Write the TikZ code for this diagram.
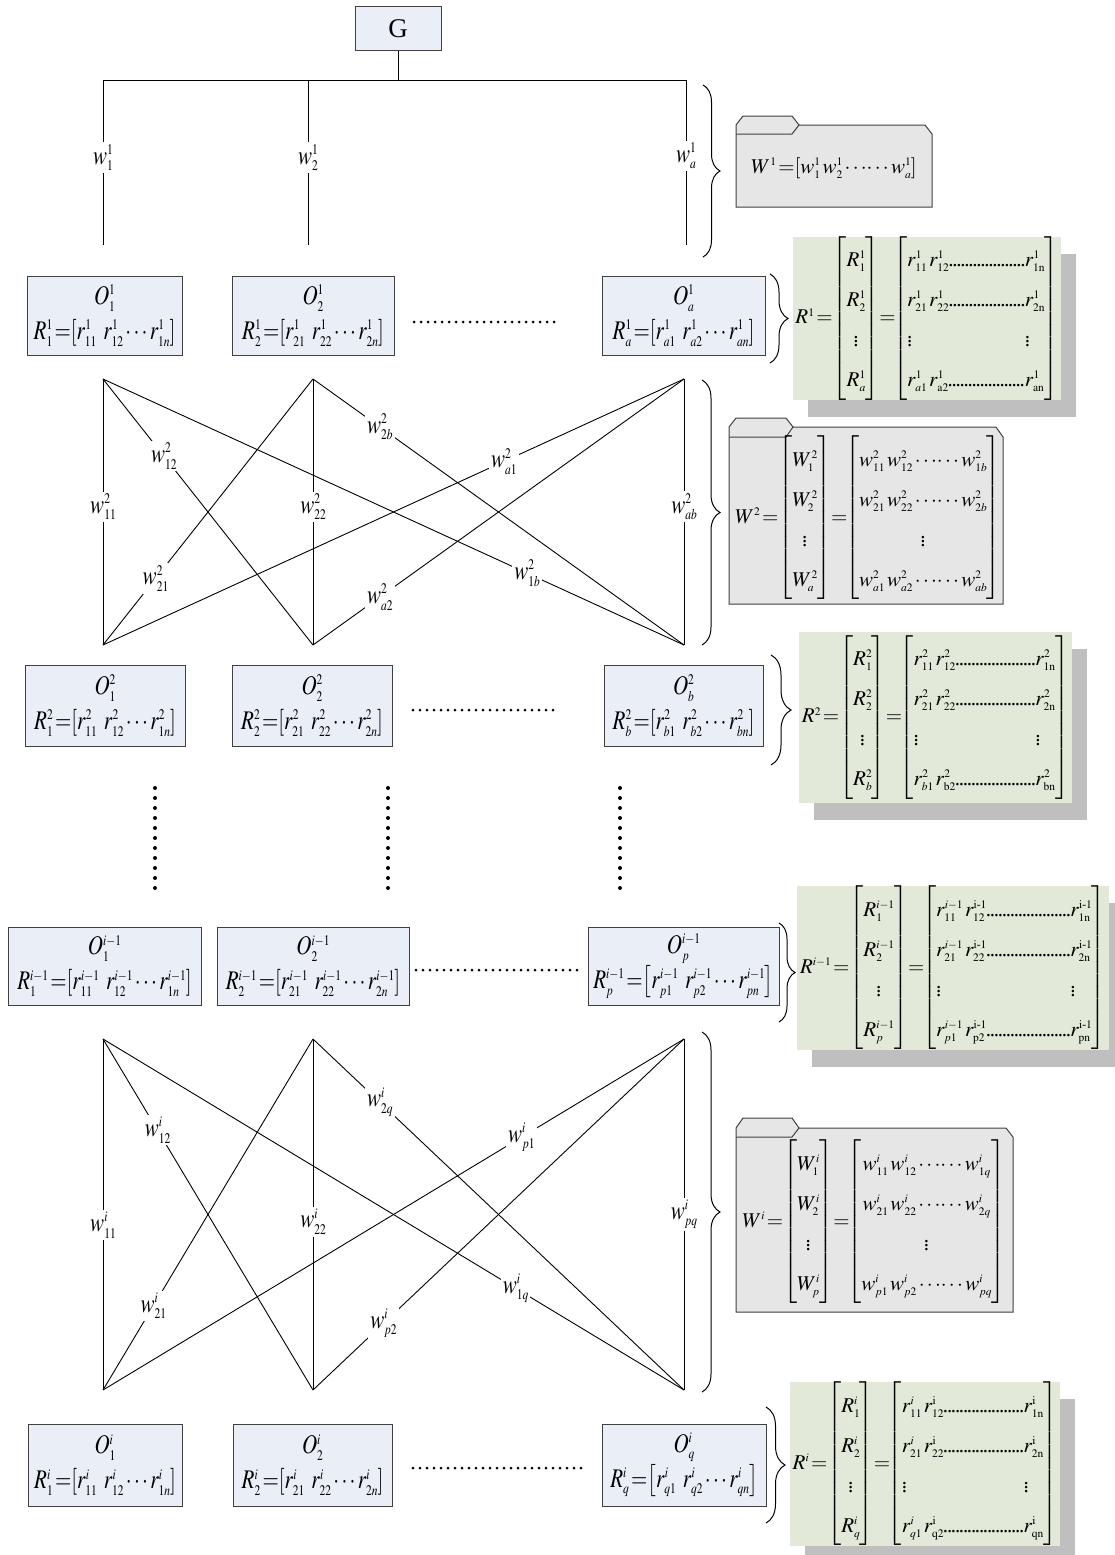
\documentclass[tikz,border=0pt]{standalone}
\usepackage{amsmath}
\usepackage{mathptmx}
\usepackage{graphicx}
\usepackage[no-math]{fontspec}
\setmainfont{Liberation Serif}
\usetikzlibrary{decorations.pathreplacing,calc,shadows}
\DeclareMathSizes{21}{21}{11.5}{9}

\definecolor{boxblue}{HTML}{EAEFF7}
\definecolor{edgec}{HTML}{404040}
\definecolor{matgreen}{HTML}{E2E9D8}
\definecolor{shadowgray}{HTML}{BFBFBF}
\definecolor{foldergray}{HTML}{E6E6E6}

\newcommand{\vs}[1]{\scalebox{1}[1.28]{#1}}
\newcommand{\ldr}[1]{\mbox{\hbox to #1{\leaders\hbox to 4pt{\hss.\hss}\hfill}}}
% name, x1, y1, x2, y2, top line, bottom line
\newcommand{\mkobox}[7]{\node[obox, minimum width={(#4-#2)*1pt}, minimum height={(#5-#3)*1pt}] (#1) at ({(#2+#4)/2},{(#3+#5)/2}) {\vs{$#6$}\\\vs{$#7$}};}
\newcommand{\mkgbox}[6]{\node[gbox, minimum width={(#4-#2)*1pt}, minimum height={(#5-#3)*1pt}] (#1) at ({(#2+#4)/2},{(#3+#5)/2}) {#6};}
% name, L, R, T(tab top), B(body top), C(tab line), Y(bottom), tab right
\newcommand{\mkfolder}[8]{%
 \filldraw[folder] (#2,#5) -- ({#2+7},#4) -- ({#8-7},#4) -- (#8,#5) -- ({#3-7},#5) -- (#3,#6) -- (#3,#7) -- (#2,#7) -- cycle;
 \draw[folder] (#2,#6) -- ({#8-7},#6) -- (#8,#5);
}
\newcommand{\imo}{\mathrm{i\text{-}1}}
\newcommand{\eqb}{\,{=}\!}
\newcommand{\eqm}{\!{=}\!\!}
\newcommand{\lw}[1]{\vs{$#1$}}

\tikzset{
 obox/.style={draw=edgec, fill=boxblue, line width=1pt, inner sep=0pt, align=center, font=\fontsize{21}{35}\selectfont},
 gbox/.style={fill=matgreen, inner sep=0pt, font=\fontsize{21}{25}\selectfont, drop shadow={shadow xshift=15pt, shadow yshift=-17pt, fill=shadowgray, opacity=1}},
 folder/.style={draw=edgec, fill=foldergray, line width=1pt, line join=miter},
 ln/.style={draw=black, line width=0.9pt},
 lbl/.style={fill=white, inner sep=2pt, font=\fontsize{21}{24}\selectfont},
 brc/.style={decorate, decoration={brace, amplitude=#1}, line width=1pt},
 hdots/.style={line width=3pt, line cap=round, dash pattern=on 0pt off 7pt},
 mtext/.style={inner sep=0pt, font=\fontsize{21}{25}\selectfont},
}

\begin{document}
\scriptspace=0pt
\begin{tikzpicture}[x=1pt,y=-1pt]
\useasboundingbox (0,0) rectangle (1115,1555);
\renewcommand{\arraystretch}{1.6}

% ---------- top ----------
\node[obox, minimum width=86pt, minimum height=44pt, font=\fontsize{27}{30}\selectfont] (g) at (398,29) {G};
\coordinate (bl) at (103,80);
\coordinate (bm) at (308,80);
\coordinate (br) at (686,80);
\coordinate (e1) at (103,245);
\coordinate (e2) at (308,245);
\coordinate (e3) at (686,245);
\draw[ln] (bl) -- (br);
\draw[ln] (g.south) -- (g.south |- bl);
\draw[ln] (bl) -- node[lbl,pos=0.47]{\lw{w^1_1}} (e1);
\draw[ln] (bm) -- node[lbl,pos=0.47]{\lw{w^1_2}} (e2);
\draw[ln] (br) -- node[lbl,pos=0.46]{\lw{w^1_a}} (e3);

\draw[brc=17pt] (703,85) -- (703,257);
\mkfolder{f1}{736}{932}{116}{125}{134}{207}{799}
\node[mtext] (w1eq) at (834,168) {$W^1\eqb\left[w^1_1\,w^1_2\cdots\!\cdots w^1_a\right]$};

% ---------- row 1 ----------
\mkobox{o11}{27}{276}{182}{355}{O^1_1}{R^1_1\eqb\left[r^1_{11}\;\,r^1_{12}\cdots r^1_{1n}\right]}
\mkobox{o12}{232}{276}{394}{355}{O^1_2}{R^1_2\eqb\left[r^1_{21}\;\,r^1_{22}\cdots r^1_{2n}\right]}
\mkobox{o13}{602}{276}{765}{355}{O^1_a}{R^1_a\eqb\left[r^1_{a1}\;\,r^1_{a2}\cdots r^1_{an}\right]}
\draw[hdots] (414,322) -- (560,322);
\draw[brc=18pt] (770,274) -- (770,363);
\mkgbox{m1}{793}{239}{1061}{398}{$R^1\eqb\left[\begin{array}{@{}c@{}}R^1_1\\R^1_2\\ \vdots\\ R^1_a\end{array}\right]\eqm\left[\begin{array}{@{}l@{\,}l@{}l@{}}r^1_{11}&r^1_{12}\ldr{76pt}&r^1_{\mathrm{1n}}\\ r^1_{21}&r^1_{22}\ldr{76pt}&r^1_{\mathrm{2n}}\\ \vdots&&\vdots\\ r^1_{a1}&r^1_{\mathrm{a2}}\ldr{76pt}&r^1_{\mathrm{an}}\end{array}\right]$}

% ---------- level 2 ----------
\coordinate (a1) at (103,379);
\coordinate (a2) at (313,379);
\coordinate (a3) at (684,379);
\coordinate (b1) at (103,645);
\coordinate (b2) at (313,645);
\coordinate (b3) at (684,645);
\draw[ln] (a1) -- node[lbl,pos=0.48]{\lw{w^2_{11}}} (b1);
\draw[ln] (a1) -- node[lbl,pos=0.29]{\lw{w^2_{12}}} (b2);
\draw[ln] (a1) -- node[lbl,pos=0.73]{\lw{w^2_{1b}}} (b3);
\draw[ln] (a2) -- node[lbl,pos=0.75]{\lw{w^2_{21}}} (b1);
\draw[ln] (a2) -- node[lbl,pos=0.48]{\lw{w^2_{22}}} (b2);
\draw[ln] (a2) -- node[lbl,pos=0.18]{\lw{w^2_{2b}}} (b3);
\draw[ln] (a3) -- node[lbl,pos=0.31]{\lw{w^2_{a1}}} (b1);
\draw[ln] (a3) -- node[lbl,pos=0.82]{\lw{w^2_{a2}}} (b2);
\draw[ln] (a3) -- node[lbl,pos=0.48]{\lw{w^2_{ab}}} (b3);
\draw[brc=18pt] (702,380) -- (702,645);
\mkfolder{f2}{729}{1003}{418}{427}{437}{604}{793}
\node[mtext] (w2eq) at (868,518) {$W^2\eqb\left[\begin{array}{@{}c@{}}W^2_1\\W^2_2\\ \vdots\\ W^2_a\end{array}\right]\eqm\left[\begin{array}{@{}c@{}}w^2_{11}\,w^2_{12}\cdots\!\cdots w^2_{1b}\\ w^2_{21}\,w^2_{22}\cdots\!\cdots w^2_{2b}\\ \vdots\\ w^2_{a1}\,w^2_{a2}\cdots\!\cdots w^2_{ab}\end{array}\right]$};

% ---------- row 2 ----------
\mkobox{o21}{25}{665}{185}{746}{O^2_1}{R^2_1\eqb\left[r^2_{11}\;\,r^2_{12}\cdots r^2_{1n}\right]}
\mkobox{o22}{232}{665}{392}{746}{O^2_2}{R^2_2\eqb\left[r^2_{21}\;\,r^2_{22}\cdots r^2_{2n}\right]}
\mkobox{o23}{604}{665}{763}{746}{O^2_b}{R^2_b\eqb\left[r^2_{b1}\;\,r^2_{b2}\cdots r^2_{bn}\right]}
\draw[hdots] (413,710) -- (557,710);
\draw[brc=20pt] (771,655) -- (771,765);
\mkgbox{m2}{799}{632}{1072}{803}{$R^2\eqb\left[\begin{array}{@{}c@{}}R^2_1\\R^2_2\\ \vdots\\ R^2_b\end{array}\right]\eqm\left[\begin{array}{@{}l@{\,}l@{}l@{}}r^2_{11}&r^2_{12}\ldr{80pt}&r^2_{\mathrm{1n}}\\ r^2_{21}&r^2_{22}\ldr{80pt}&r^2_{\mathrm{2n}}\\ \vdots&&\vdots\\ r^2_{b1}&r^2_{\mathrm{b2}}\ldr{80pt}&r^2_{\mathrm{bn}}\end{array}\right]$}

% ---------- vertical dots ----------
\foreach \xx in {155,388,620}{
 \foreach \k in {0,...,10}{\fill (\xx,{788+10*\k}) circle (2pt);}
}

% ---------- row i-1 ----------
\mkobox{o31}{8}{927}{201}{1005}{O^{i-1}_1}{R^{i-1}_1\eqb\left[r^{i-1}_{11}\;\,r^{i-1}_{12}\cdots r^{i-1}_{1n}\right]}
\mkobox{o32}{217}{927}{409}{1005}{O^{i-1}_2}{R^{i-1}_2\eqb\left[r^{i-1}_{21}\;\,r^{i-1}_{22}\cdots r^{i-1}_{2n}\right]}
\mkobox{o33}{588}{927}{779}{1005}{O^{i-1}_p}{R^{i-1}_p\eqb\left[r^{i-1}_{p1}\;\,r^{i-1}_{p2}\cdots r^{i-1}_{pn}\right]}
\draw[hdots] (416,970) -- (584,970);
\draw[brc=16pt] (779,923) -- (779,1022);
\mkgbox{m3}{797}{888}{1109}{1048}{$R^{i-1}\eqb\left[\begin{array}{@{}c@{}}R^{i-1}_1\\R^{i-1}_2\\ \vdots\\ R^{i-1}_p\end{array}\right]\eqm\left[\begin{array}{@{}l@{\,}l@{}l@{}}r^{i-1}_{11}&r^{\imo}_{12}\ldr{84pt}&r^{\imo}_{\mathrm{1n}}\\ r^{i-1}_{21}&r^{\imo}_{22}\ldr{84pt}&r^{\imo}_{\mathrm{2n}}\\ \vdots&&\vdots\\ r^{i-1}_{p1}&r^{\imo}_{\mathrm{p2}}\ldr{84pt}&r^{\imo}_{\mathrm{pn}}\end{array}\right]$}

% ---------- level i ----------
\coordinate (c1) at (103,1039);
\coordinate (c2) at (313,1039);
\coordinate (c3) at (684,1039);
\coordinate (d1) at (103,1390);
\coordinate (d2) at (313,1390);
\coordinate (d3) at (684,1390);
\draw[ln] (c1) -- node[lbl,pos=0.53]{\lw{w^i_{11}}} (d1);
\draw[ln] (c1) -- node[lbl,pos=0.26]{\lw{w^i_{12}}} (d2);
\draw[ln] (c1) -- node[lbl,pos=0.71]{\lw{w^i_{1q}}} (d3);
\draw[ln] (c2) -- node[lbl,pos=0.76]{\lw{w^i_{21}}} (d1);
\draw[ln] (c2) -- node[lbl,pos=0.52]{\lw{w^i_{22}}} (d2);
\draw[ln] (c2) -- node[lbl,pos=0.18]{\lw{w^i_{2q}}} (d3);
\draw[ln] (c3) -- node[lbl,pos=0.28]{\lw{w^i_{p1}}} (d1);
\draw[ln] (c3) -- node[lbl,pos=0.81]{\lw{w^i_{p2}}} (d2);
\draw[ln] (c3) -- node[lbl,pos=0.50]{\lw{w^i_{pq}}} (d3);
\draw[brc=18pt] (702,1032) -- (702,1392);
\mkfolder{f3}{736}{1013}{1118}{1128}{1137}{1312}{799}
\node[mtext] (wieq) at (874,1222) {$W^i\eqb\left[\begin{array}{@{}c@{}}W^i_1\\W^i_2\\ \vdots\\ W^i_p\end{array}\right]\eqm\left[\begin{array}{@{}c@{}}w^i_{11}\,w^i_{12}\cdots\!\cdots w^i_{1q}\\ w^i_{21}\,w^i_{22}\cdots\!\cdots w^i_{2q}\\ \vdots\\ w^i_{p1}\,w^i_{p2}\cdots\!\cdots w^i_{pq}\end{array}\right]$};

% ---------- row i ----------
\mkobox{o41}{28}{1424}{182}{1506}{O^i_1}{R^i_1\eqb\left[r^i_{11}\;\,r^i_{12}\cdots r^i_{1n}\right]}
\mkobox{o42}{233}{1424}{392}{1506}{O^i_2}{R^i_2\eqb\left[r^i_{21}\;\,r^i_{22}\cdots r^i_{2n}\right]}
\mkobox{o43}{602}{1424}{766}{1506}{O^i_q}{R^i_q\eqb\left[r^i_{q1}\;\,r^i_{q2}\cdots r^i_{qn}\right]}
\draw[hdots] (413,1468) -- (585,1468);
\draw[brc=19pt] (766,1407) -- (766,1523);
\mkgbox{m4}{790}{1383}{1060}{1545}{$R^i\eqb\left[\begin{array}{@{}c@{}}R^i_1\\R^i_2\\ \vdots\\ R^i_q\end{array}\right]\eqm\left[\begin{array}{@{}l@{\,}l@{}l@{}}r^i_{11}&r^{\mathrm{i}}_{12}\ldr{80pt}&r^{\mathrm{i}}_{\mathrm{1n}}\\ r^i_{21}&r^{\mathrm{i}}_{22}\ldr{80pt}&r^{\mathrm{i}}_{\mathrm{2n}}\\ \vdots&&\vdots\\ r^i_{q1}&r^{\mathrm{i}}_{\mathrm{q2}}\ldr{80pt}&r^{\mathrm{i}}_{\mathrm{qn}}\end{array}\right]$}
\end{tikzpicture}
\end{document}
